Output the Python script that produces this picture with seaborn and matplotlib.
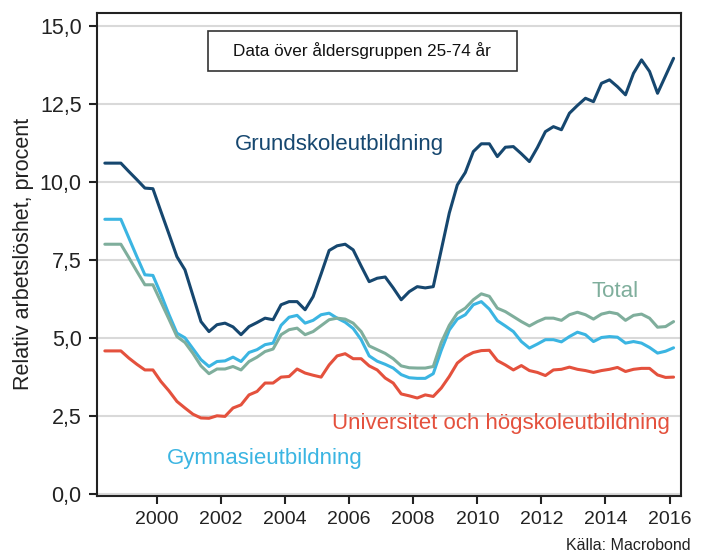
import numpy as np
import pandas as pd
import matplotlib
matplotlib.use('Agg')
import matplotlib.pyplot as plt
from matplotlib.patches import Rectangle
import seaborn as sns

# quarterly observations, 1998Q2 .. 2016Q1 (decimal year, mid-quarter)
n_q = 72
start_year = 1998.375

grundskola = [10.6, 10.6, 10.6, 10.33, 10.07, 9.8, 9.78, 9.05, 8.33, 7.6,
              7.18, 6.35, 5.52, 5.2, 5.42, 5.47, 5.35, 5.1, 5.36, 5.49,
              5.63, 5.58, 6.06, 6.16, 6.16, 5.9, 6.32, 7.05, 7.8, 7.95,
              8.0, 7.82, 7.3, 6.8, 6.91, 6.95, 6.6, 6.22, 6.48, 6.64,
              6.6, 6.64, 7.82, 9.0, 9.9, 10.3, 10.97, 11.22, 11.22, 10.81,
              11.11, 11.13, 10.9, 10.65, 11.1, 11.61, 11.77, 11.67, 12.2, 12.45,
              12.68, 12.57, 13.16, 13.27, 13.05, 12.79, 13.48, 13.91, 13.54, 12.84,
              13.4, 13.96]

gymnasie = [8.8, 8.8, 8.8, 8.2, 7.6, 7.02, 7.0, 6.4, 5.75, 5.15,
            5.0, 4.65, 4.3, 4.08, 4.24, 4.26, 4.38, 4.24, 4.53, 4.62,
            4.78, 4.83, 5.4, 5.66, 5.72, 5.47, 5.56, 5.74, 5.79, 5.63,
            5.5, 5.3, 4.94, 4.42, 4.25, 4.15, 4.03, 3.82, 3.72, 3.7,
            3.7, 3.85, 4.6, 5.25, 5.6, 5.74, 6.06, 6.16, 5.92, 5.55,
            5.38, 5.2, 4.88, 4.67, 4.8, 4.94, 4.94, 4.87, 5.04, 5.18,
            5.1, 4.88, 5.01, 5.04, 5.02, 4.83, 4.88, 4.83, 4.69, 4.51,
            4.57, 4.68]

total = [8.0, 8.0, 8.0, 7.57, 7.13, 6.7, 6.7, 6.15, 5.6, 5.04,
         4.85, 4.5, 4.1, 3.85, 4.0, 4.0, 4.08, 3.97, 4.24, 4.38,
         4.56, 4.64, 5.1, 5.26, 5.31, 5.1, 5.2, 5.39, 5.58, 5.63,
         5.6, 5.47, 5.2, 4.74, 4.62, 4.5, 4.33, 4.1, 4.04, 4.03,
         4.03, 4.08, 4.85, 5.4, 5.79, 5.95, 6.22, 6.41, 6.33, 5.95,
         5.84, 5.68, 5.52, 5.38, 5.52, 5.63, 5.63, 5.56, 5.74, 5.82,
         5.74, 5.6, 5.76, 5.82, 5.77, 5.56, 5.72, 5.76, 5.63, 5.34,
         5.36, 5.52]

universitet = [4.58, 4.58, 4.58, 4.35, 4.15, 3.97, 3.97, 3.6, 3.3, 2.96,
               2.75, 2.55, 2.43, 2.42, 2.5, 2.48, 2.75, 2.85, 3.17, 3.28,
               3.55, 3.55, 3.74, 3.76, 4.0, 3.87, 3.8, 3.74, 4.13, 4.42,
               4.49, 4.33, 4.33, 4.1, 3.97, 3.71, 3.55, 3.2, 3.14, 3.07,
               3.17, 3.12, 3.39, 3.76, 4.19, 4.4, 4.53, 4.59, 4.6, 4.27,
               4.13, 3.97, 4.11, 3.95, 3.89, 3.79, 3.97, 3.99, 4.06, 3.99,
               3.95, 3.89, 3.95, 3.99, 4.05, 3.92, 3.99, 4.02, 4.02, 3.81,
               3.73, 3.74]

series_names = ['Grundskoleutbildning', 'Total', 'Gymnasieutbildning',
                'Universitet och högskoleutbildning']
colors = {'Grundskoleutbildning': '#16476f',
          'Total': '#7fae9c',
          'Gymnasieutbildning': '#3bb5e2',
          'Universitet och högskoleutbildning': '#e4513d'}

yticks = [0, 2.5, 5.0, 7.5, 10.0, 12.5, 15.0]
xticks = [2000, 2002, 2004, 2006, 2008, 2010, 2012, 2014, 2016]

t = start_year + 0.25 * np.arange(n_q)
df = pd.concat([
    pd.DataFrame({'year': t, 'value': vals, 'serie': name})
    for name, vals in zip(series_names, [grundskola, total, gymnasie, universitet])
])

sns.set_style('white')
plt.rcParams['font.family'] = ['Liberation Sans', 'DejaVu Sans']

fig = plt.figure(figsize=(7.08, 5.56), dpi=100)
ax = fig.add_axes([0.137, 0.108, 0.825, 0.869])

for y in yticks:
    ax.axhline(y, color='#d9d9d9', lw=1.5, zorder=0)

sns.lineplot(data=df, x='year', y='value', hue='serie', palette=colors,
             hue_order=series_names[::-1], lw=2.2, legend=False, ax=ax)

ax.set_xlim(1998.13, 2016.36)
ax.set_ylim(-0.07, 15.42)
ax.set_yticks(yticks)
ax.set_yticklabels([f'{v:.1f}'.replace('.', ',') for v in yticks])
ax.set_xticks(xticks)
ax.set_xticklabels([str(x) for x in xticks])
ax.tick_params(axis='both', length=6, width=1.5, direction='out',
               color='#222222', labelcolor='#222222')
ax.tick_params(axis='x', labelsize=14, pad=5)
ax.tick_params(axis='y', labelsize=15.5, pad=5)
ax.xaxis.set_ticks_position('bottom')
ax.yaxis.set_ticks_position('left')
for s in ax.spines.values():
    s.set_color('#222222')
    s.set_linewidth(1.5)
ax.set_xlabel('')
ax.set_ylabel('Relativ arbetslöshet, procent', fontsize=15.5, color='#222222',
              labelpad=4)

# series labels
ax.text(2005.7, 11.19, 'Grundskoleutbildning', color=colors['Grundskoleutbildning'],
        fontsize=16, ha='center', va='center')
ax.text(2014.3, 6.5, 'Total', color=colors['Total'], fontsize=16,
        ha='center', va='center')
ax.text(2010.75, 2.24, 'Universitet och högskoleutbildning',
        color=colors['Universitet och högskoleutbildning'], fontsize=16,
        ha='center', va='center')
ax.text(2003.37, 1.12, 'Gymnasieutbildning', color=colors['Gymnasieutbildning'],
        fontsize=16, ha='center', va='center')

# note box
ax.add_patch(Rectangle((0.190, 0.880), 0.529, 0.083, transform=ax.transAxes,
                       fc='white', ec='#333333', lw=1.2, zorder=5))
ax.text(0.454, 0.921, 'Data över åldersgruppen 25-74 år', transform=ax.transAxes,
        fontsize=12.3, ha='center', va='center', color='#111111', zorder=6)

fig.text(0.975, 0.005, 'Källa: Macrobond', fontsize=11.5, ha='right', va='bottom',
         color='#222222')

plt.savefig('out.png', dpi=100)
